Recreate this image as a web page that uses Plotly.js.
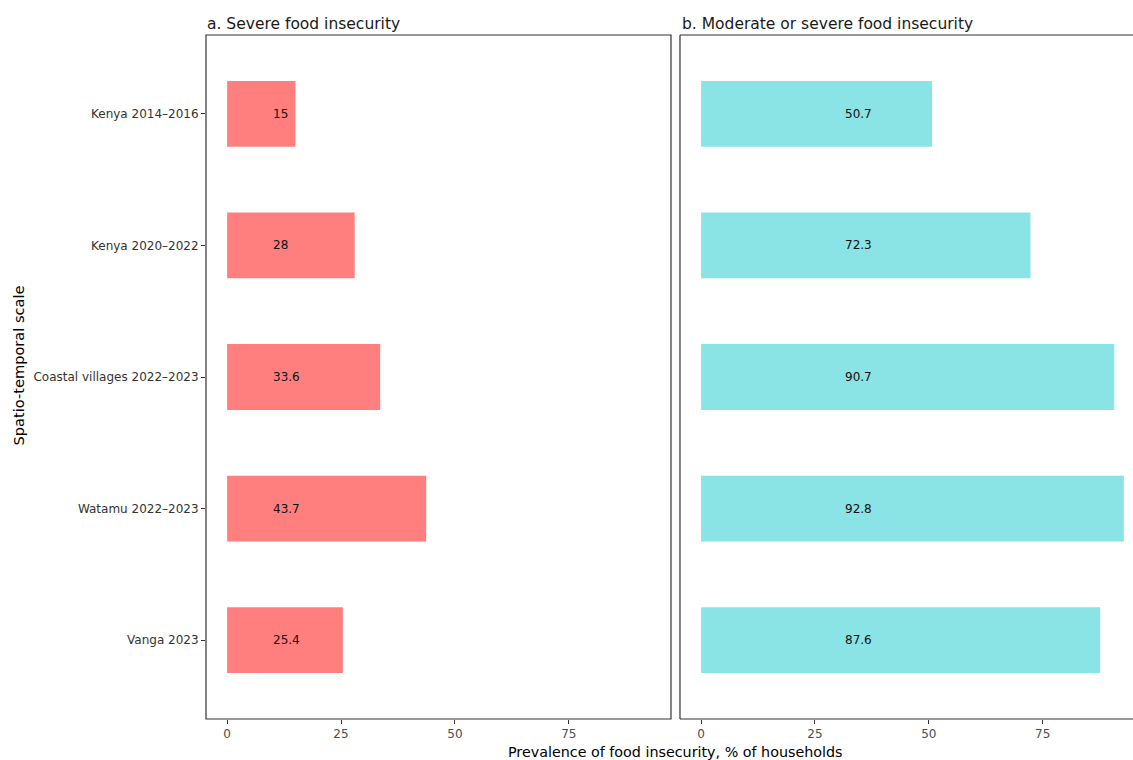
<!DOCTYPE html>
<html>
<head>
<meta charset="utf-8">
<script src="https://cdn.plot.ly/plotly-3.0.1.min.js"></script>
<style>
  html, body { margin: 0; padding: 0; background: #ffffff; }
  #chart { width: 1133px; height: 760px; }
</style>
</head>
<body>
<div id="chart"></div>
<script>
// Household food insecurity prevalence by spatio-temporal scale
const categories = [
  "Kenya 2014\u20132016",
  "Kenya 2020\u20132022",
  "Coastal villages 2022\u20132023",
  "Watamu 2022\u20132023",
  "Vanga 2023"
];
const severe = [15, 28, 33.6, 43.7, 25.4];
const moderateOrSevere = [50.7, 72.3, 90.7, 92.8, 87.6];
const panelTitles = ["a. Severe food insecurity", "b. Moderate or severe food insecurity"];
const xTicks = [0, 25, 50, 75];

const FONT = "DejaVu Sans, Verdana, sans-serif";
const RED = "#FF7F7F";
const CYAN = "#8AE3E4";
const FRAME = "#333333";

// shared x scale across both facets, expanded by 5% of the data span
const xMax = Math.max(...severe, ...moderateOrSevere);
const pad = xMax * 0.05;
const leftDomain = [0, 0.5016];
const rightDomain = [0.5113, 1];
const pxPerUnit = (0.5016 * 927) / (xMax + 2 * pad);
const rightMax = (1 - 0.5113) * 927 / pxPerUnit - pad;

const traces = [
  {
    type: "bar", orientation: "h",
    x: severe, y: categories,
    xaxis: "x", yaxis: "y",
    width: 0.5,
    marker: { color: RED },
    hoverinfo: "x+y", showlegend: false
  },
  {
    type: "bar", orientation: "h",
    x: moderateOrSevere, y: categories,
    xaxis: "x2", yaxis: "y2",
    width: 0.5,
    marker: { color: CYAN },
    hoverinfo: "x+y", showlegend: false
  }
];

// value labels, left-aligned at a fixed position inside each bar
const annotations = [];
const labelX = { x: 9.6, x2: 31.2 };
severe.forEach((v, i) => annotations.push({
  xref: "x", yref: "y", x: labelX.x, y: categories[i],
  text: String(v), showarrow: false, xanchor: "left",
  font: { family: FONT, size: 12, color: "#111111" }
}));
moderateOrSevere.forEach((v, i) => annotations.push({
  xref: "x2", yref: "y2", x: labelX.x2, y: categories[i],
  text: String(v), showarrow: false, xanchor: "left",
  font: { family: FONT, size: 12, color: "#111111" }
}));

// facet strip titles
annotations.push({
  xref: "paper", yref: "paper", x: leftDomain[0], y: 1, yshift: 0,
  xanchor: "left", yanchor: "bottom", showarrow: false, xshift: -1,
  text: panelTitles[0], font: { family: FONT, size: 15.5, color: "#1a1a1a" }
});
annotations.push({
  xref: "paper", yref: "paper", x: rightDomain[0], y: 1, yshift: 0,
  xanchor: "left", yanchor: "bottom", showarrow: false, xshift: 0,
  text: panelTitles[1], font: { family: FONT, size: 15.5, color: "#1a1a1a" }
});

// common axis titles
annotations.push({
  xref: "paper", yref: "paper", x: 0.507, y: 0, yshift: -23,
  xanchor: "center", yanchor: "top", showarrow: false,
  text: "Prevalence of food insecurity, % of households",
  font: { family: FONT, size: 14.3, color: "#000000" }
});
annotations.push({
  xref: "paper", yref: "paper", x: 0, xshift: -199, y: 0.5, yshift: 11,
  xanchor: "left", yanchor: "middle", showarrow: false, textangle: -90,
  text: "Spatio-temporal scale",
  font: { family: FONT, size: 14.6, color: "#000000" }
});

// panel borders (right panel runs past the page edge)
const lineStyle = { color: FRAME, width: 1.2 };
const shapes = [
  { type: "rect", xref: "paper", yref: "paper", x0: leftDomain[0], x1: leftDomain[1], y0: 0, y1: 1, line: lineStyle },
  { type: "line", xref: "paper", yref: "paper", x0: rightDomain[0], x1: rightDomain[0], y0: 0, y1: 1, line: lineStyle },
  { type: "line", xref: "paper", yref: "paper", x0: rightDomain[0], x1: 1.01, y0: 1, y1: 1, line: lineStyle },
  { type: "line", xref: "paper", yref: "paper", x0: rightDomain[0], x1: 1.01, y0: 0, y1: 0, line: lineStyle }
];

const xCommon = {
  tickmode: "array", tickvals: xTicks, ticktext: xTicks.map(String),
  ticks: "outside", ticklen: 4, tickwidth: 1, tickcolor: FRAME,
  tickfont: { family: FONT, size: 12, color: "#4d4d4d" },
  showgrid: false, zeroline: false, showline: false,
  anchor: "free"
};
const yCommon = {
  type: "category", categoryorder: "array", categoryarray: categories,
  range: [4.6, -0.6], showgrid: false, zeroline: false, showline: false
};

const layout = {
  width: 1133, height: 760,
  margin: { l: 206, r: 0, t: 35, b: 41, pad: 0 },
  paper_bgcolor: "#ffffff", plot_bgcolor: "#ffffff",
  font: { family: FONT },
  xaxis: Object.assign({}, xCommon, { domain: leftDomain, range: [-pad, xMax + pad], position: 0 }),
  xaxis2: Object.assign({}, xCommon, { domain: rightDomain, range: [-pad, rightMax], position: 0 }),
  yaxis: Object.assign({}, yCommon, {
    domain: [0, 1], anchor: "x",
    ticks: "outside", ticklen: 4, tickwidth: 1, tickcolor: FRAME,
    tickfont: { family: FONT, size: 12, color: "#333333" }
  }),
  yaxis2: Object.assign({}, yCommon, {
    domain: [0, 1], anchor: "x2", showticklabels: false, ticks: ""
  }),
  annotations: annotations,
  shapes: shapes,
  bargap: 0.5
};

Plotly.newPlot("chart", traces, layout, { displayModeBar: false, staticPlot: true });
</script>
</body>
</html>
